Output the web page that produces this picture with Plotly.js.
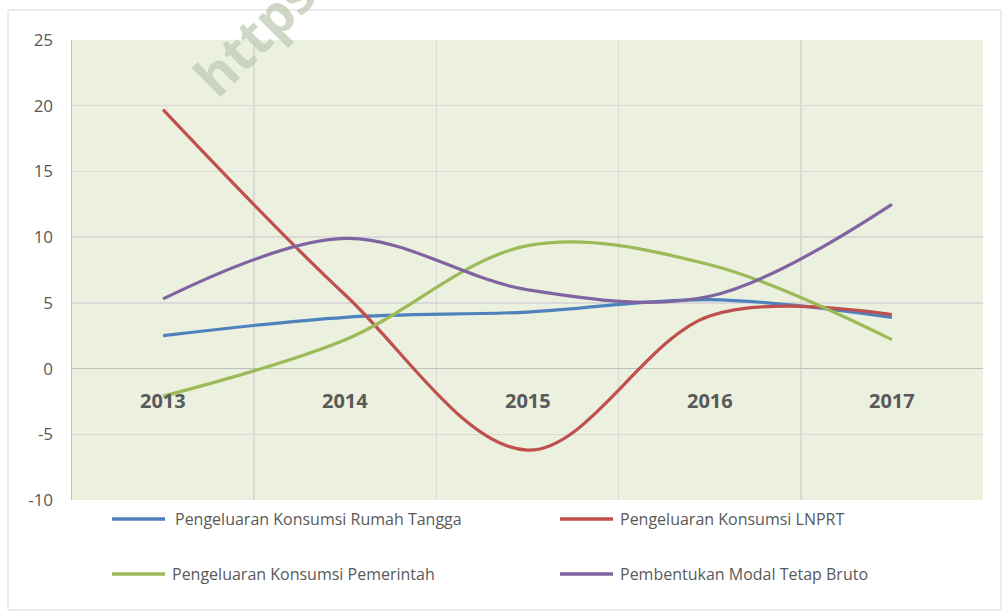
<!DOCTYPE html>
<html><head><meta charset="utf-8">
<script src="https://cdn.plot.ly/plotly-3.0.1.min.js"></script>
<style>html,body{margin:0;padding:0;background:#fff;}#chart{width:1003px;height:612px;}</style>
</head><body><div id="chart"></div>
<script>
const categories = ["2013", "2014", "2015", "2016", "2017"];
const seriesNames = ["Pengeluaran Konsumsi Rumah Tangga", "Pengeluaran Konsumsi LNPRT", "Pengeluaran Konsumsi Pemerintah", "Pembentukan Modal Tetap Bruto"];
const rumahTangga = [2.5, 3.9, 4.3, 5.25, 3.9];
const lnprt = [19.7, 5.6, -6.2, 4.0, 4.1];
const pemerintah = [-2.1, 2.2, 9.35, 7.9, 2.2];
const modalTetap = [5.3, 9.9, 6.0, 5.5, 12.5];
const yTicks = [-10, -5, 0, 5, 10, 15, 20, 25];
const colors = ["#4F81BD", "#C0504D", "#9BBB59", "#8064A2"];
const allSeries = [rumahTangga, lnprt, pemerintah, modalTetap];

const xIdx = categories.map((c, i) => i);
const traces = allSeries.map((s, k) => ({
  x: xIdx, y: s, type: 'scatter', mode: 'lines', name: seriesNames[k],
  line: {color: colors[k], width: 3.2, shape: 'spline', smoothing: 1},
  hoverinfo: 'skip', showlegend: false
}));

const W = 1003, H = 612, L = 72, R = 20, T = 40, B = 112;
const pw = W - L - R, ph = H - T - B;
const px = x => (x - L) / pw;
const py = y => (H - B - y) / ph;

const annotations = categories.map((c, i) => ({
  x: i, y: -2.4, xref: 'x', yref: 'y', text: c, showarrow: false,
  font: {family: 'Open Sans, sans-serif', size: 20, color: '#595959', weight: 'bold'}
}));
const shapes = [{
  type: 'rect', xref: 'paper', yref: 'paper', x0: px(8), x1: px(1001), y0: py(610), y1: py(10),
  line: {color: '#D9D9D9', width: 1}, layer: 'below'
}];
const legendPos = [[112, 519, 173], [560, 519, 618], [112, 574, 170], [560, 574, 618]];
seriesNames.forEach((n, k) => {
  const [lx, ly, tx] = legendPos[k];
  shapes.push({type: 'line', xref: 'paper', yref: 'paper', x0: px(lx), x1: px(lx + 53), y0: py(ly), y1: py(ly),
    line: {color: colors[k], width: 3.5}});
  annotations.push({x: px(tx), y: py(ly), xref: 'paper', yref: 'paper', xanchor: 'left', yanchor: 'middle',
    text: n, showarrow: false, font: {family: 'Open Sans, sans-serif', size: 16, color: '#595959'}});
});
annotations.push({x: px(174), y: py(-88), xref: 'paper', yref: 'paper', text: 'https://', showarrow: false,
  textangle: -45, font: {family: 'Open Sans, sans-serif', size: 54, color: 'rgba(192,202,180,0.75)', weight: 'bold'}});

const layout = {
  width: W, height: H, margin: {l: L, r: R, t: T, b: B},
  paper_bgcolor: '#FFFFFF', plot_bgcolor: '#EBF1DE',
  xaxis: {range: [-0.5, 4.5], tickvals: [-0.5, 0.5, 1.5, 2.5, 3.5, 4.5], showticklabels: false,
    showgrid: true, gridcolor: '#D9D9D9', gridwidth: 1.5, zeroline: false, showline: false, fixedrange: true},
  yaxis: {range: [-10, 25], tickvals: yTicks, ticktext: yTicks.map(String), showgrid: true, gridcolor: '#D9D9D9', gridwidth: 1.5,
    zeroline: true, zerolinecolor: '#BFBFBF', zerolinewidth: 1.5, showline: true, linecolor: '#BFBFBF', linewidth: 1.5,
    ticks: '', ticklabelstandoff: 14, tickfont: {family: 'Open Sans, sans-serif', size: 17, color: '#595959'}, fixedrange: true},
  annotations: annotations, shapes: shapes, showlegend: false
};
Plotly.newPlot('chart', traces, layout, {displayModeBar: false, staticPlot: true});
</script></body></html>
